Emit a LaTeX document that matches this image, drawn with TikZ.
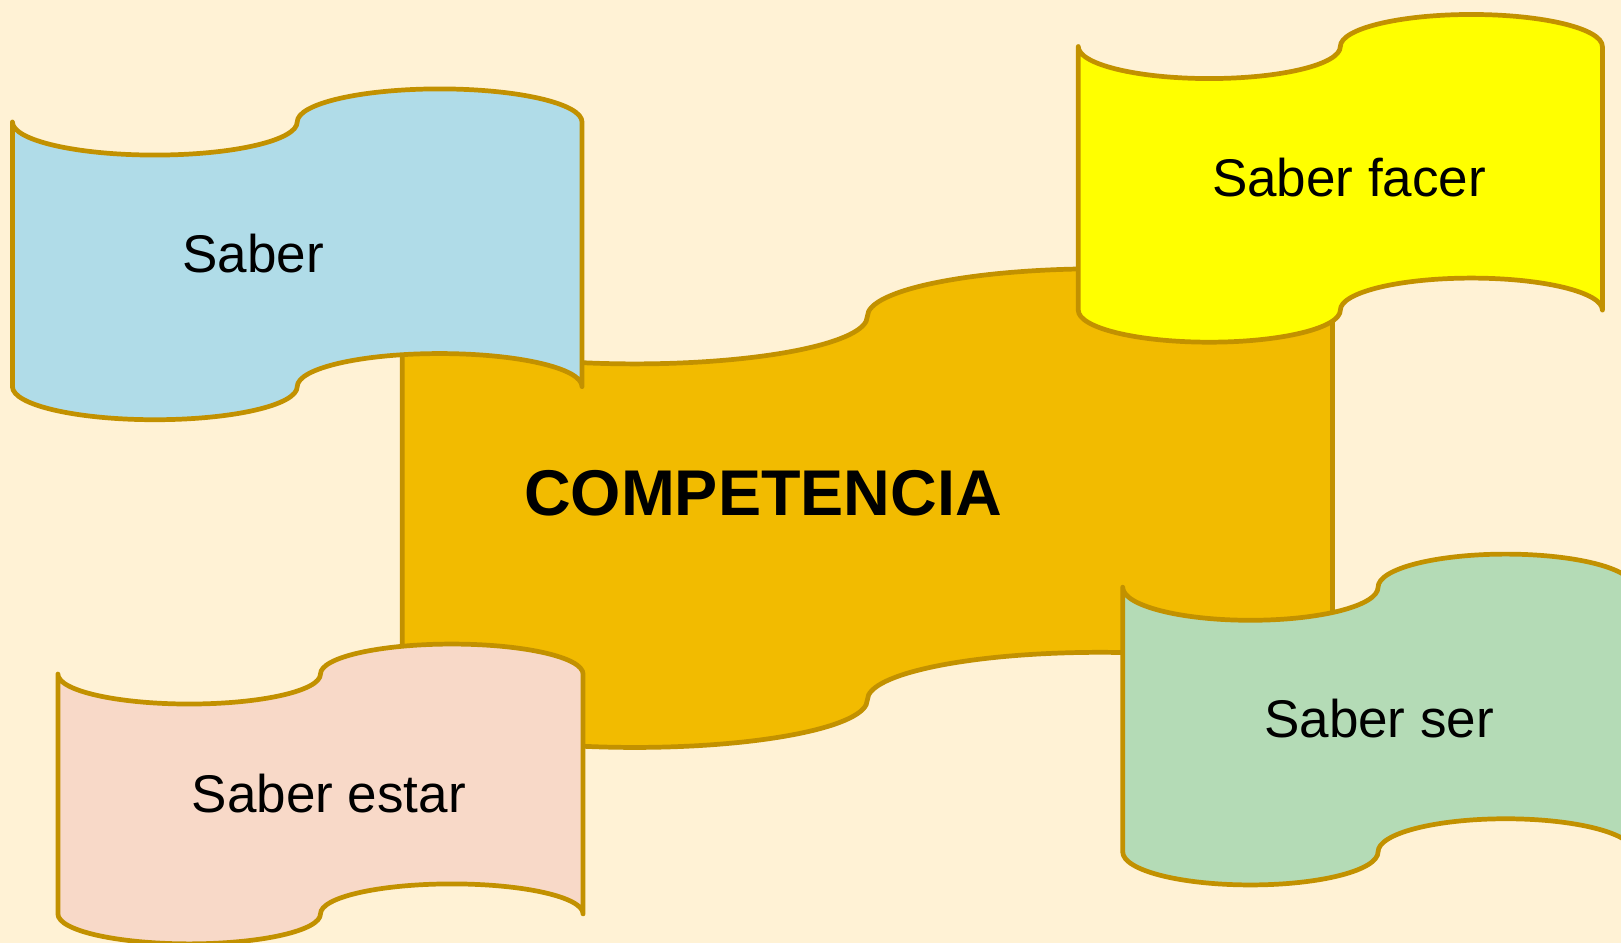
\documentclass[tikz,border=0pt]{standalone}
\usepackage{fontspec}
\setmainfont{Liberation Sans}

\definecolor{backcream}{HTML}{FFF2D5}
\definecolor{tapeedge}{HTML}{C29100}
\definecolor{saberfill}{HTML}{B0DCE8}
\definecolor{facerfill}{HTML}{FFFF00}
\definecolor{competfill}{HTML}{F2BB00}
\definecolor{estarfill}{HTML}{F8D9C8}
\definecolor{serfill}{HTML}{B4DBB6}

\tikzset{
  tapeline/.style={draw=tapeedge, line width=2.6pt, line join=round},
  flagtext/.style={font=\fontsize{29.2}{34}\selectfont, inner sep=0pt},
  mainflagtext/.style={font=\fontsize{35.6}{42}\selectfont\bfseries, inner sep=0pt}
}

% fill, left x, top y, width, height, wave
\newcommand{\tapeflag}[6]{%
  \draw[tapeline, fill=#1] (#2,#3)
    arc[start angle=180, end angle=0, x radius=#4/4, y radius=#6]
    arc[start angle=180, end angle=360, x radius=#4/4, y radius=#6]
    -- ++(0,#5)
    arc[start angle=0, end angle=-180, x radius=#4/4, y radius=#6]
    arc[start angle=0, end angle=180, x radius=#4/4, y radius=#6]
    -- cycle;}

\begin{document}
\begin{tikzpicture}[x=0.02cm, y=-0.02cm]

\fill[backcream] (0,0) rectangle (1568,912);
\useasboundingbox (0,0) rectangle (1568,912);
\clip (0,0) rectangle (1568,912);

\tapeflag{competfill}{389}{306}{900}{371}{46}
\node[mainflagtext] (competencia) at (738,477) {COMPETENCIA};

\tapeflag{saberfill}{12}{118}{551}{256}{32}
\node[flagtext] (saber) at (245,245) {Saber};

\tapeflag{facerfill}{1043}{45}{507}{255}{31}
\node[flagtext] (saberfacer) at (1305,172) {Saber facer};

\tapeflag{estarfill}{56}{652}{508}{232}{29}
\node[flagtext] (saberestar) at (318,768) {Saber estar};

\tapeflag{serfill}{1086}{568}{494}{256}{32}
\node[flagtext] (saberser) at (1334,695) {Saber ser};

\end{tikzpicture}
\end{document}
